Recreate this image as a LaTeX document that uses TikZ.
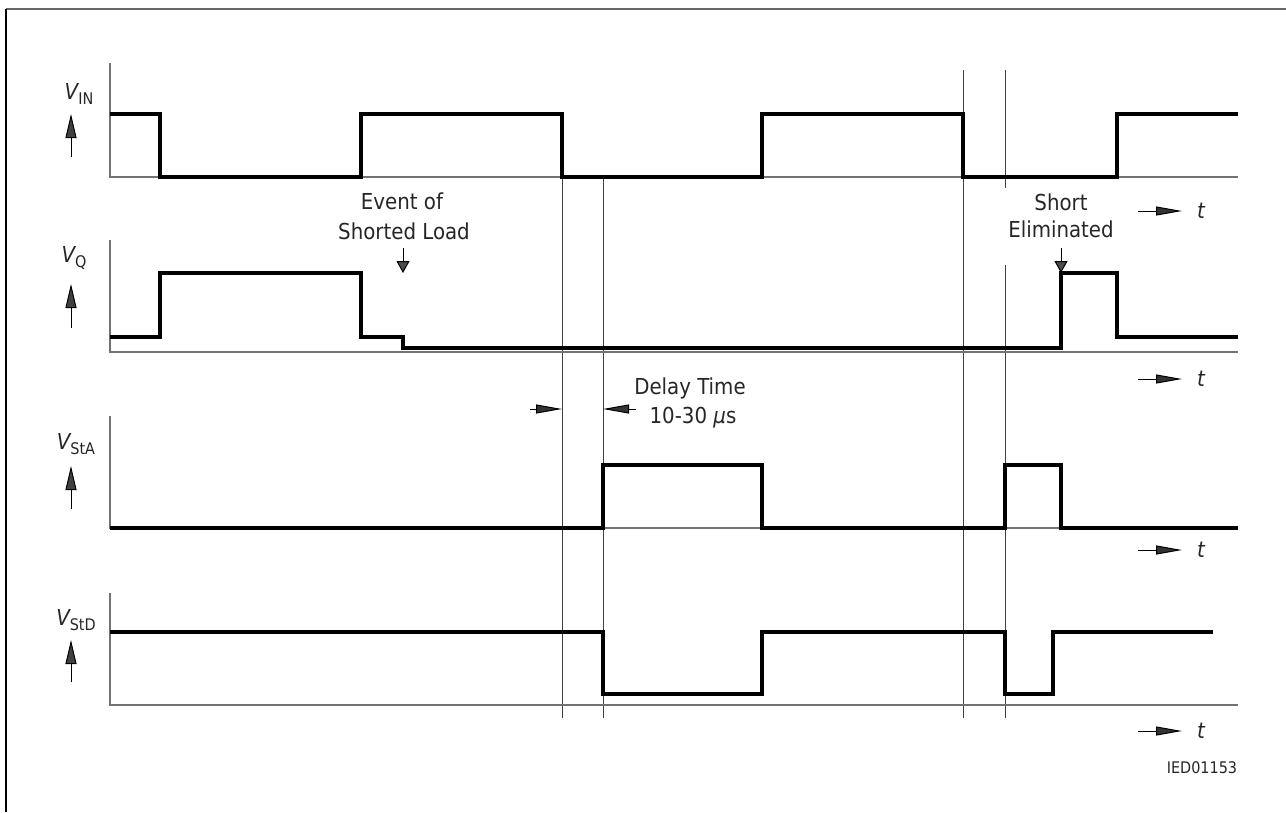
\documentclass[tikz,border=0pt]{standalone}
\usepackage{fontspec}
\setmainfont{DejaVu Sans Condensed}
\usetikzlibrary{arrows.meta}
\tikzset{
  sig/.style={line width=3.6pt, line join=miter},
  axis/.style={line width=1.4pt, black!55},
  guide/.style={line width=1pt, black!75},
  txt/.style={font=\fontsize{22}{26}\selectfont, inner sep=0pt, text=black!85},
  code/.style={font=\fontsize{16}{18}\selectfont, inner sep=0pt, text=black!85},
  tarr/.style={line width=1pt, -{Triangle[length=26pt,width=9pt,fill=black!80]}},
  uparr/.style={line width=1pt, -{Triangle[length=24pt,width=11pt,fill=black!75]}},
  downarr/.style={line width=1pt, -{Triangle[length=12pt,width=13pt,fill=black!70]}},
}
\newcommand{\vsig}[1]{{\itshape V}\raisebox{-0.45ex}{\fontsize{16}{16}\selectfont #1}}

\begin{document}
\begin{tikzpicture}[x=1pt, y=-1pt]
\useasboundingbox (0,0) rectangle (1286,812);
% frame
\draw [black!60, line width=1.5pt] (6,9) -- (1286,9);
\draw [line width=1.3pt] (6,9) -- (6,812);
% guides
\draw [guide] (562,177) -- (562,718);
\draw [guide] (603,177) -- (603,718);
\draw [guide] (963,70) -- (963,718);
\draw [guide] (1005,70) -- (1005,188);
\draw [guide] (1005,265) -- (1005,718);
% axes
\draw [axis] (110,63) |- (1238,177);
\draw [axis] (110,240) |- (1238,352);
\draw [axis] (110,416) |- (1238,528);
\draw [axis] (110,593) |- (1238,705);
% V_IN
\draw [sig] (110,114) -| (160,177) -| (361,114) -| (562,177) -| (762,114) -| (963,177) -| (1117,114) -- (1238,114);
% V_Q
\draw [sig] (110,337) -| (160,273) -| (361,337) -| (403,348) -| (1061,273) -| (1117,337) -- (1238,337);
% V_StA
\draw [sig] (110,528) -| (603,465) -| (762,528) -| (1005,465) -| (1061,528) -- (1238,528);
% V_StD
\draw [sig] (110,632) -| (603,694) -| (762,632) -| (1005,694) -| (1053,632) -- (1213,632);
% labels
\node [txt] (vin) at (79,94) {\vsig{IN}};
\node [txt] (vq) at (74,258) {\vsig{Q}};
\node [txt] (vsta) at (76,444) {\vsig{StA}};
\node [txt] (vstd) at (76,620) {\vsig{StD}};
\coordinate (vin-t) at (71,157); \coordinate (vin-h) at (71,114);
\coordinate (vq-t) at (71,328); \coordinate (vq-h) at (71,284);
\coordinate (vsta-t) at (71,509); \coordinate (vsta-h) at (71,466);
\coordinate (vstd-t) at (71,682); \coordinate (vstd-h) at (71,640);
\draw [uparr] (vin-t) -- (vin-h);
\draw [uparr] (vq-t) -- (vq-h);
\draw [uparr] (vsta-t) -- (vsta-h);
\draw [uparr] (vstd-t) -- (vstd-h);
% time axes
\foreach \n/\y in {1/211, 2/379, 3/550, 4/731} {
  \coordinate (ta\n) at (1138,\y);
  \node [txt] (t\n) at (1201,\y) {\itshape t};
  \draw [tarr] (ta\n) -- ++(44,0);
}
% events
\node [txt] (event) at (402,201) {Event of};
\node [txt] (load) at (404,231) {Shorted Load};
\coordinate (ev-t) at (403,248); \coordinate (ev-h) at (403,273);
\draw [downarr] (ev-t) -- (ev-h);
\node [txt] (short) at (1061,202) {Short};
\node [txt] (elim) at (1061,229) {Eliminated};
\coordinate (el-t) at (1061,248); \coordinate (el-h) at (1061,273);
\draw [downarr] (el-t) -- (el-h);
% delay
\node [txt] (delay) at (690,388) {Delay Time};
\node [txt] (range) at (693,418) {10-30 {\itshape µ}s};
\coordinate (dl-t) at (530,409); \coordinate (dl-h) at (562,409);
\coordinate (dr-t) at (636,409); \coordinate (dr-h) at (603,409);
\draw [tarr] (dl-t) -- (dl-h);
\draw [tarr] (dr-t) -- (dr-h);
% misc
\node [code] (id) at (1202,768) {IED01153};
\end{tikzpicture}
\end{document}
